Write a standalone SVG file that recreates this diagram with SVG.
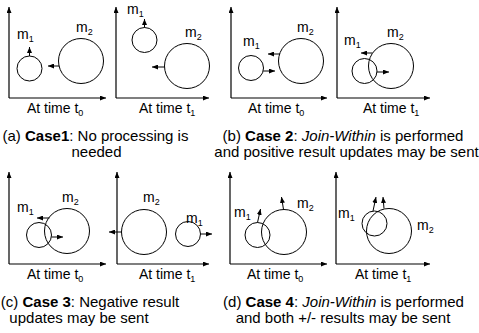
<svg xmlns="http://www.w3.org/2000/svg" width="479" height="333" viewBox="0 0 479 333">
<style>
text{font-family:"Liberation Sans",Arial,sans-serif;fill:#000}
.lbl{font-size:14px}
.cap{font-size:15px;text-anchor:middle}
.sub{font-size:9px}
.ax{stroke:#000;stroke-width:1.2;fill:none;marker-end:url(#ah)}
.c{stroke:#000;stroke-width:1;fill:none}
.mv{stroke:#000;stroke-width:1;fill:none;marker-end:url(#ah)}
</style>
<defs>
<marker id="ah" markerUnits="userSpaceOnUse" markerWidth="6" markerHeight="5" refX="6" refY="2.5" orient="auto">
<path d="M0,0 L6,2.5 L0,5 z" fill="#000"/>
</marker>
</defs>

<g id="axes">
<path class="ax" d="M9,98 V7"/><path class="ax" d="M9,98 H106"/>
<path class="ax" d="M116,98 V7"/><path class="ax" d="M116,98 H209"/>
<path class="ax" d="M231,98 V7"/><path class="ax" d="M231,98 H327"/>
<path class="ax" d="M337,98 V7"/><path class="ax" d="M337,98 H430"/>
<path class="ax" d="M9,264 V172"/><path class="ax" d="M9,264 H106"/>
<path class="ax" d="M117,264 V172"/><path class="ax" d="M117,264 H209"/>
<path class="ax" d="M230,264 V172"/><path class="ax" d="M230,264 H327"/>
<path class="ax" d="M336,264 V172"/><path class="ax" d="M336,264 H430"/>
</g>

<g id="panel-a-t0">
<circle class="c" cx="29.5" cy="68.5" r="12.5"/>
<circle class="c" cx="81" cy="61" r="22.5"/>
<text class="lbl" x="17" y="39">m<tspan class="sub" dy="3">1</tspan></text>
<text class="lbl" x="76" y="32">m<tspan class="sub" dy="3">2</tspan></text>
<text class="lbl" x="27" y="113">At time t<tspan class="sub" dy="3">0</tspan></text>
</g>
<g id="panel-a-t1">
<circle class="c" cx="144.5" cy="40" r="12.5"/>
<circle class="c" cx="187" cy="66" r="22.5"/>
<text class="lbl" x="127" y="14">m<tspan class="sub" dy="3">1</tspan></text>
<text class="lbl" x="185" y="37">m<tspan class="sub" dy="3">2</tspan></text>
<text class="lbl" x="139" y="113">At time t<tspan class="sub" dy="3">1</tspan></text>
</g>
<g id="panel-b-t0">
<circle class="c" cx="251" cy="68" r="12.5"/>
<circle class="c" cx="301" cy="61" r="22.5"/>
<text class="lbl" x="243" y="46">m<tspan class="sub" dy="3">1</tspan></text>
<text class="lbl" x="297" y="32">m<tspan class="sub" dy="3">2</tspan></text>
<text class="lbl" x="248" y="113">At time t<tspan class="sub" dy="3">0</tspan></text>
</g>
<g id="panel-b-t1">
<circle class="c" cx="364.5" cy="71" r="12.5"/>
<circle class="c" cx="391" cy="66" r="22.5"/>
<text class="lbl" x="344" y="45">m<tspan class="sub" dy="3">1</tspan></text>
<text class="lbl" x="387" y="37">m<tspan class="sub" dy="3">2</tspan></text>
<text class="lbl" x="363" y="113">At time t<tspan class="sub" dy="3">1</tspan></text>
</g>
<g id="panel-c-t0">
<circle class="c" cx="39" cy="235" r="12.5"/>
<circle class="c" cx="67" cy="231" r="22.5"/>
<text class="lbl" x="17" y="212">m<tspan class="sub" dy="3">1</tspan></text>
<text class="lbl" x="62" y="202">m<tspan class="sub" dy="3">2</tspan></text>
<text class="lbl" x="27" y="279">At time t<tspan class="sub" dy="3">0</tspan></text>
</g>
<g id="panel-c-t1">
<circle class="c" cx="144" cy="232" r="22.5"/>
<circle class="c" cx="188" cy="234" r="12.5"/>
<text class="lbl" x="143" y="202">m<tspan class="sub" dy="3">2</tspan></text>
<text class="lbl" x="186" y="223">m<tspan class="sub" dy="3">1</tspan></text>
<text class="lbl" x="139" y="279">At time t<tspan class="sub" dy="3">1</tspan></text>
</g>
<g id="panel-d-t0">
<circle class="c" cx="257.5" cy="235" r="12.5"/>
<circle class="c" cx="284" cy="232" r="22.5"/>
<text class="lbl" x="234" y="217">m<tspan class="sub" dy="3">1</tspan></text>
<text class="lbl" x="297" y="208">m<tspan class="sub" dy="3">2</tspan></text>
<text class="lbl" x="247" y="279">At time t<tspan class="sub" dy="3">0</tspan></text>
</g>
<g id="panel-d-t1">
<circle class="c" cx="374.5" cy="223.5" r="12.5"/>
<circle class="c" cx="389" cy="231" r="22.5"/>
<text class="lbl" x="338" y="218">m<tspan class="sub" dy="3">1</tspan></text>
<text class="lbl" x="417" y="230">m<tspan class="sub" dy="3">2</tspan></text>
<text class="lbl" x="355" y="279">At time t<tspan class="sub" dy="3">1</tspan></text>
</g>

<g id="connectors">
<path class="mv" d="M29.5,56 V47"/>
<path class="mv" d="M59.5,66 H48"/>
<path class="mv" d="M144.5,27.5 V19"/>
<path class="mv" d="M164.5,67 H152"/>
<path class="mv" d="M263.2,71 H275"/>
<path class="mv" d="M280,54 H268"/>
<path class="mv" d="M372.5,53 H361"/>
<path class="mv" d="M377,72 H389"/>
<path class="mv" d="M49.5,218 H37"/>
<path class="mv" d="M51.5,237 H63"/>
<path class="mv" d="M121.5,232 H109"/>
<path class="mv" d="M200.5,234 H212"/>
<path class="mv" d="M257.5,222.5 L260.5,209"/>
<path class="mv" d="M283.5,209.5 L281.5,197"/>
<path class="mv" d="M373,211 L376,197"/>
<path class="mv" d="M384,208.5 L383,197"/>
</g>

<g id="captions">
<text class="cap" x="95.5" y="141">(a) <tspan font-weight="bold">Case1</tspan>: No processing is</text>
<text class="cap" x="96.5" y="157">needed</text>
<text class="cap" x="343" y="141">(b) <tspan font-weight="bold">Case 2</tspan>: <tspan font-style="italic">Join-Within</tspan> is performed</text>
<text class="cap" x="346.5" y="157">and positive result updates may be sent</text>
<text class="cap" x="90" y="307">(c) <tspan font-weight="bold">Case 3</tspan>: Negative result</text>
<text class="cap" x="79" y="323">updates may be sent</text>
<text class="cap" x="343.5" y="307">(d) <tspan font-weight="bold">Case 4</tspan>: <tspan font-style="italic">Join-Within</tspan> is performed</text>
<text class="cap" x="343" y="323">and both +/- results may be sent</text>
</g>
</svg>
